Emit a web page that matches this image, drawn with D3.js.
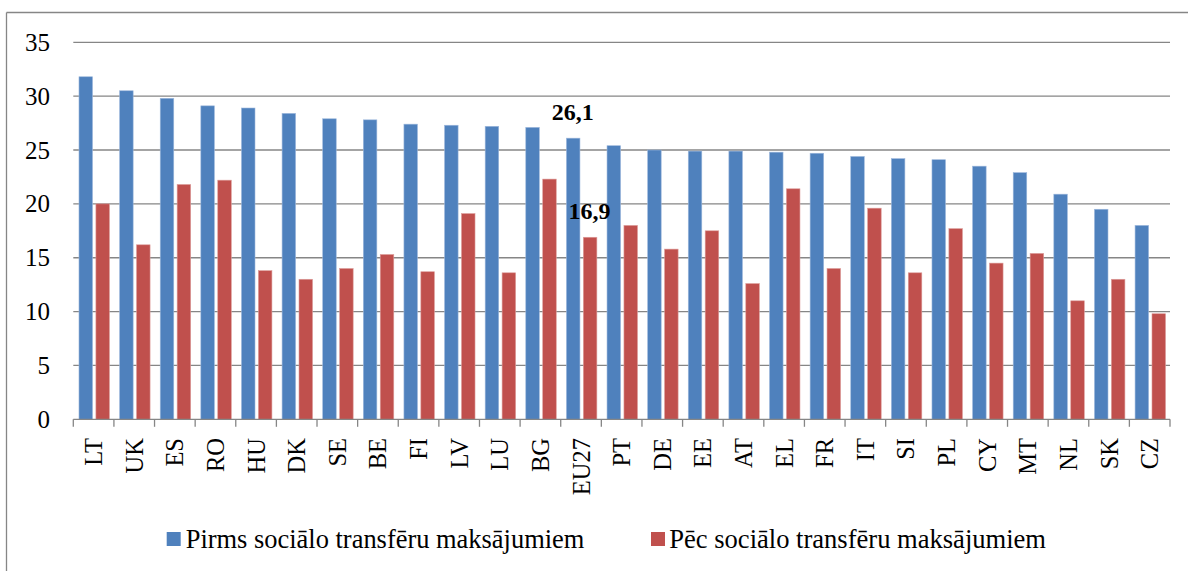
<!DOCTYPE html>
<html><head><meta charset="utf-8"><script src="https://cdn.jsdelivr.net/npm/d3@7"></script>
<style>
@font-face { font-family: "RefSerif"; src: local("Liberation Serif"), local("LiberationSerif"), local("Liberation Serif Regular"); font-weight: normal; }
@font-face { font-family: "RefSerif"; src: local("Liberation Serif Bold"), local("LiberationSerif-Bold"); font-weight: bold; }
svg text { font-family: "Liberation Serif", "RefSerif", "Times New Roman", serif !important; }
</style>
</head>
<body style="margin:0">
<svg id="viz" width="1188" height="571"></svg>
<script>
const categories = ["LT","UK","ES","RO","HU","DK","SE","BE","FI","LV","LU","BG","EU27","PT","DE","EE","AT","EL","FR","IT","SI","PL","CY","MT","NL","SK","CZ"];
const beforeTransfers = [31.8,30.5,29.8,29.1,28.9,28.4,27.9,27.8,27.4,27.3,27.2,27.1,26.1,25.4,25.0,24.9,24.9,24.8,24.7,24.4,24.2,24.1,23.5,22.9,20.9,19.5,18.0];
const afterTransfers  = [20.0,16.2,21.8,22.2,13.8,13.0,14.0,15.3,13.7,19.1,13.6,22.3,16.9,18.0,15.8,17.5,12.6,21.4,14.0,19.6,13.6,17.7,14.5,15.4,11.0,13.0,9.8];
const seriesNames = ["Pirms sociālo transfēru maksājumiem", "Pēc sociālo transfēru maksājumiem"];
const seriesColors = ["#4F81BD", "#C0504D"];
const yTicks = [0,5,10,15,20,25,30,35];
const labelledCategory = "EU27";

const FONT = '"Liberation Serif"';
const svg = d3.select("#viz");
const plot = { left: 73.3, right: 1170, top: 42.3, bottom: 419.3 };
const gridColor = "#868686";

svg.append("line").attr("x1", 6.5).attr("x2", 1188).attr("y1", 12.5).attr("y2", 12.5)
  .attr("stroke", gridColor).attr("stroke-width", 1.3);
svg.append("line").attr("x1", 6.5).attr("x2", 6.5).attr("y1", 12.5).attr("y2", 571)
  .attr("stroke", gridColor).attr("stroke-width", 1.3);

const x = d3.scaleBand().domain(categories).range([plot.left, plot.right]).paddingInner(0).paddingOuter(0);
const y = d3.scaleLinear().domain([0, 35]).range([plot.bottom, plot.top]);
const bw = x.bandwidth();
const x1 = d3.scaleBand().domain([0, 1]).range([0.14 * bw, 0.89 * bw]).paddingInner(0.2).paddingOuter(0);

svg.append("g").selectAll("line").data(yTicks.filter(d => d > 0)).join("line")
  .attr("x1", plot.left).attr("x2", plot.right)
  .attr("y1", d => y(d)).attr("y2", d => y(d))
  .attr("stroke", gridColor).attr("stroke-width", 1.3);

yTicks.forEach(d => {
  svg.append("text")
    .attr("x", 50).attr("y", y(d) + 8.5)
    .attr("text-anchor", "end").attr("font-size", 25).attr("font-family", FONT).style("font-family", FONT)
    .text(d);
});

const series = [beforeTransfers, afterTransfers];
series.forEach((vals, si) => {
  svg.append("g").selectAll("rect").data(categories).join("rect")
    .attr("x", (c) => x(c) + x1(si))
    .attr("y", (c, i) => y(vals[i]))
    .attr("width", x1.bandwidth())
    .attr("height", (c, i) => y(0) - y(vals[i]))
    .attr("fill", seriesColors[si])
    .attr("stroke", si === 0 ? "#9db8dc" : "#dd9d9b")
    .attr("stroke-width", 0.6);
});

svg.append("line").attr("x1", plot.left).attr("x2", plot.right)
  .attr("y1", y(0)).attr("y2", y(0)).attr("stroke", gridColor).attr("stroke-width", 1.3);
const boundaries = categories.map(c => x(c)).concat([plot.right]);
svg.append("g").selectAll("line").data(boundaries).join("line")
  .attr("x1", d => d).attr("x2", d => d)
  .attr("y1", y(0)).attr("y2", y(0) + 7.5)
  .attr("stroke", gridColor).attr("stroke-width", 1.3);

categories.forEach(c => {
  svg.append("text")
    .attr("transform", `translate(${x(c) + bw / 2 + 8.5},438) rotate(-90)`)
    .attr("text-anchor", "end").attr("font-size", 24.5).attr("font-family", FONT).style("font-family", FONT)
    .text(c);
});

const li = categories.indexOf(labelledCategory);
series.forEach((vals, si) => {
  svg.append("text")
    .attr("x", x(labelledCategory) + x1(si) + x1.bandwidth() / 2 - 0.5)
    .attr("y", y(vals[li]) - 17.8)
    .attr("text-anchor", "middle").attr("font-size", 24).attr("font-weight", "bold")
    .attr("font-family", FONT).style("font-family", FONT)
    .text(d3.format(".1f")(vals[li]).replace(".", ","));
});

const legendItems = [{ sq: 166.7, tx: 185.7, w: 399 }, { sq: 651, tx: 669.3, w: 377 }];
legendItems.forEach((l, i) => {
  svg.append("rect").attr("x", l.sq).attr("y", 532).attr("width", 14).attr("height", 14)
    .attr("fill", seriesColors[i]);
  const t = svg.append("text").attr("x", l.tx).attr("y", 548.3).attr("font-size", 24)
    .attr("font-family", FONT).style("font-family", FONT)
    .text(seriesNames[i]);
  const len = t.node().getComputedTextLength();
  if (len > 0) t.attr("font-size", 24 * l.w / len);
});
</script>
</body>
</html>
